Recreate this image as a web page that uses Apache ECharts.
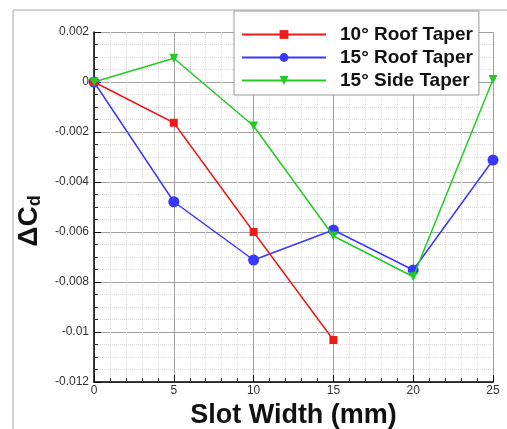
<!DOCTYPE html>
<html>
<head>
<meta charset="utf-8">
<script src="https://cdn.jsdelivr.net/npm/echarts@6/dist/echarts.min.js"></script>
<style>
  html, body { margin: 0; padding: 0; background: #fff; }
  #chart { width: 507px; height: 429px; }
</style>
</head>
<body>
<div id="chart"></div>
<script>
// Slot widths (mm) and drag coefficient changes per configuration
const slotWidths = [0, 5, 10, 15, 20, 25];
const roof10 = [0, -0.00163, -0.0060, -0.01032];
const roof15 = [0, -0.00479, -0.00712, -0.00592, -0.00752, -0.00312];
const side15 = [0, 0.00095, -0.00176, -0.00616, -0.00779, 0.0001];
const seriesNames = ['10° Roof Taper', '15° Roof Taper', '15° Side Taper'];

const pairs = (ys) => ys.map((y, i) => [slotWidths[i], y]);
const FONT = '"Liberation Sans", Arial, Helvetica, sans-serif';

const chart = echarts.init(document.getElementById('chart'), null, { renderer: 'canvas' });

const option = {
  animation: false,
  backgroundColor: '#fff',
  textStyle: { fontFamily: FONT },
  graphic: [{
    type: 'rect',
    z: -10,
    shape: { x: 13, y: 10, width: 700, height: 600 },
    style: { fill: 'none', stroke: '#a8a8a8', lineWidth: 1 }
  }],
  grid: { left: 94, right: 14, top: 32, bottom: 47, containLabel: false, outerBoundsMode: 'none' },
  xAxis: {
    type: 'value',
    min: 0, max: 25, interval: 5,
    name: 'Slot Width (mm)',
    nameLocation: 'middle',
    nameGap: 18,
    nameTextStyle: { fontSize: 27, fontWeight: 'bold', color: '#111', fontFamily: FONT },
    axisLine: { show: true, onZero: false, lineStyle: { color: '#000', width: 1.5 } },
    axisTick: { show: true, inside: true, length: 7, lineStyle: { color: '#000' } },
    minorTick: { show: true, splitNumber: 5, length: 4, lineStyle: { color: '#333' } },
    axisLabel: { fontSize: 12, color: '#333', margin: 3, fontFamily: FONT },
    splitLine: { show: true, lineStyle: { color: '#a0a0a0', width: 1 } },
    minorSplitLine: { show: true, lineStyle: { color: '#dcdcdc', type: 'dotted', width: 1 } }
  },
  yAxis: {
    type: 'value',
    min: -0.012, max: 0.002, interval: 0.002,
    name: '{m|ΔC}{s|d}',
    nameLocation: 'middle',
    nameRotate: 90,
    nameGap: 44,
    nameTextStyle: {
      padding: [0, 28, 0, 0],
      rich: {
        m: { fontSize: 28, fontWeight: 'bold', color: '#111', fontFamily: FONT },
        s: { fontSize: 18, fontWeight: 'bold', color: '#111', fontFamily: FONT, verticalAlign: 'bottom', padding: [12, 0, 0, 0] }
      }
    },
    axisLine: { show: true, onZero: false, lineStyle: { color: '#000', width: 1.5 } },
    axisTick: { show: true, inside: true, length: 7, lineStyle: { color: '#000' } },
    minorTick: { show: true, splitNumber: 4, length: 4, lineStyle: { color: '#333' } },
    axisLabel: {
      fontSize: 12, color: '#333', margin: 5, fontFamily: FONT,
      formatter: (v) => {
        const r = Math.round(v * 1000) / 1000;
        return r === 0 ? '0' : String(r);
      }
    },
    splitLine: { show: true, lineStyle: { color: '#a0a0a0', width: 1 } },
    minorSplitLine: { show: true, lineStyle: { color: '#dcdcdc', type: 'dotted', width: 1 } }
  },
  legend: {
    orient: 'vertical',
    left: 234, top: 11,
    padding: [14, 6, 5, 7],
    itemGap: 4,
    itemWidth: 84,
    itemHeight: 11,
    backgroundColor: '#fff',
    borderColor: '#999',
    borderWidth: 1,
    borderRadius: 0,
    textStyle: { fontSize: 19, fontWeight: 'bold', color: '#111', fontFamily: FONT, padding: [0, 0, 0, 9], lineHeight: 19 },
    data: seriesNames
  },
  series: [
    {
      name: seriesNames[0], type: 'line', data: pairs(roof10),
      color: '#ee1a1a', symbol: 'rect', symbolSize: 8,
      lineStyle: { width: 1.5 }, itemStyle: { color: '#ee1a1a' }, z: 3
    },
    {
      name: seriesNames[1], type: 'line', data: pairs(roof15),
      color: '#3838ff', symbol: 'circle', symbolSize: 11,
      lineStyle: { width: 1.5 }, itemStyle: { color: '#3838ff' }, z: 2
    },
    {
      name: seriesNames[2], type: 'line', data: pairs(side15),
      color: '#22cc22', symbol: 'triangle', symbolRotate: 180, symbolSize: 9,
      lineStyle: { width: 1.5 }, itemStyle: { color: '#22cc22' }, z: 4
    }
  ]
};

chart.setOption(option);
</script>
</body>
</html>
